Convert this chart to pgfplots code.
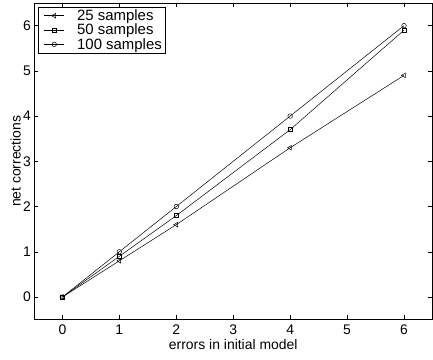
\documentclass[border=0pt]{standalone}
\usepackage{pgfplots}
\pgfplotsset{compat=1.18}
\usepackage{fontspec}
\setmainfont{Liberation Sans}
\begin{document}
\begin{tikzpicture}
\begin{axis}[
  scale only axis,
  width=399bp, height=317bp,
  xmin=-0.5, xmax=6.5, ymin=-0.5, ymax=6.5,
  xtick={0,1,2,3,4,5,6}, ytick={0,1,2,3,4,5,6},
  tick align=inside, major tick length=4.5bp,
  axis line style={line width=0.7pt},
  every tick/.style={black, line width=0.4pt},
  /pgf/number format/assume math mode=true,
  tick label style={font=\fontsize{14}{16}\selectfont},
  xticklabel style={inner sep=0bp, yshift=-5bp},
  yticklabel style={inner sep=0bp, xshift=-3bp},
  label style={font=\fontsize{14}{16}\selectfont},
  xlabel={errors in initial model}, ylabel={net corrections},
  xlabel style={at={(axis description cs:0.5,0)}, anchor=north, inner sep=0bp, yshift=-20bp},
  ylabel style={at={(axis description cs:0,0.5)}, anchor=south, inner sep=0bp, rotate=0, yshift=13bp},
  legend style={font=\fontsize{15}{16}\selectfont, draw=black, line width=0.6pt, inner xsep=2bp, inner ysep=1.5bp, row sep=0pt, nodes={inner sep=1bp}, at={(0.01,0.988)}, anchor=north west},
  legend cell align=left,
  legend image code/.code={\path[draw=none, fill=none] (0bp,0bp) rectangle (36bp,0.1bp); \draw[#1] (4bp,0bp) -- (24bp,0bp); \draw[#1, mark repeat=2, mark phase=2] plot coordinates {(4bp,0bp) (14bp,0bp) (24bp,0bp)};},
]
\coordinate (ll) at (rel axis cs:0,0);
\coordinate (ur) at (rel axis cs:1,1);
\addplot[black, line width=0.5pt, mark=triangle, mark size=2.6pt, mark options={rotate=90, solid}] coordinates {(0,0) (1,0.8) (2,1.6) (4,3.3) (6,4.9)};
\addlegendentry{25 samples}
\addplot[black, line width=0.5pt, mark=square, mark size=2pt] coordinates {(0,0) (1,0.9) (2,1.8) (4,3.7) (6,5.9)};
\addlegendentry{50 samples}
\addplot[black, line width=0.5pt, mark=o, mark size=2.3pt] coordinates {(0,0) (1,1) (2,2) (4,4) (6,6)};
\addlegendentry{100 samples}
\end{axis}
\pgfresetboundingbox
\path ([shift={(-34bp,-40bp)}]ll) rectangle ([shift={(0.5bp,3bp)}]ur);
\end{tikzpicture}
\end{document}
